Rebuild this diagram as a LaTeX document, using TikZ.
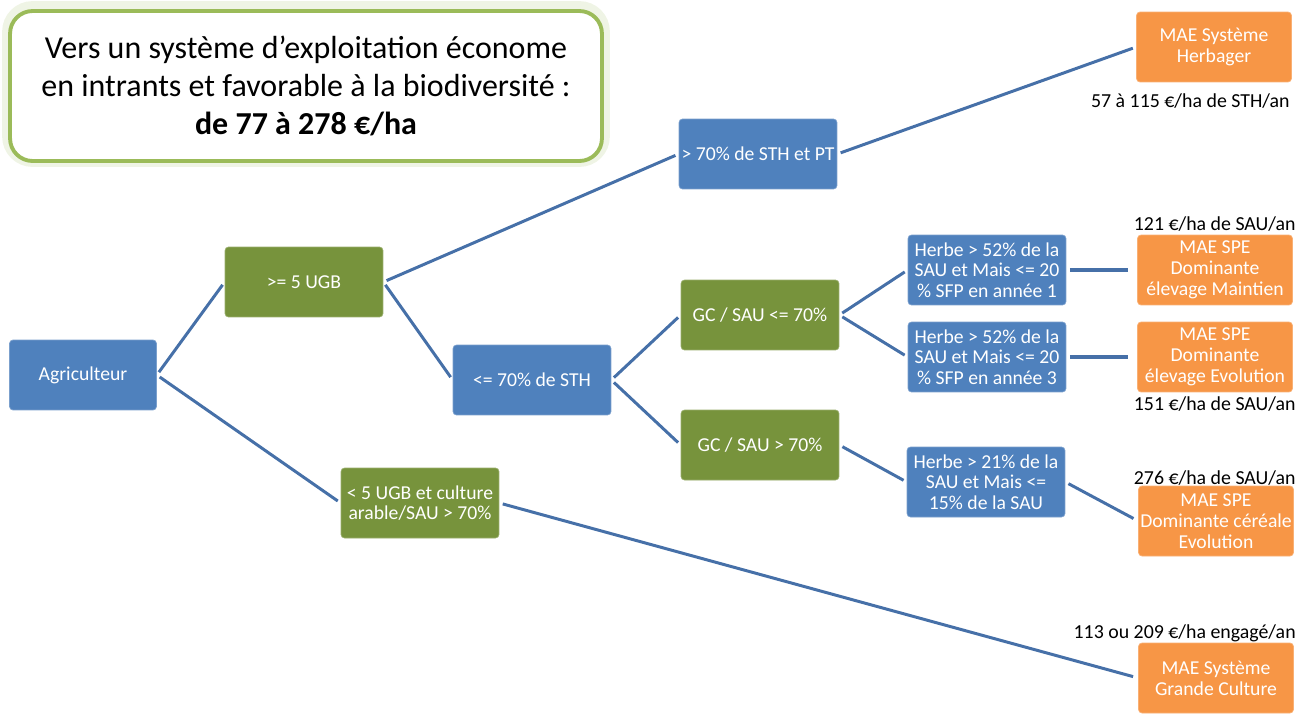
\documentclass[tikz,border=0pt]{standalone}
\usepackage{fontspec}
\setmainfont{Carlito}
\definecolor{boxblue}{RGB}{79,129,189}
\definecolor{boxgreen}{RGB}{119,147,60}
\definecolor{boxorange}{RGB}{247,150,70}
\definecolor{linkblue}{RGB}{70,112,168}
\definecolor{framegreen}{RGB}{155,187,89}
\tikzset{
  box/.style={rounded corners=2pt, text=white, align=center, minimum width=3.16cm,
    minimum height=1.4cm, inner sep=1pt, font=\fontsize{11.2}{11.8}\selectfont},
  bluebox/.style={box, fill=boxblue, draw=boxblue!75!white},
  greenbox/.style={box, fill=boxgreen, draw=boxgreen!75!white},
  orangebox/.style={box, fill=boxorange, draw=boxorange!75!white, minimum width=3.1cm},
  link/.style={draw=linkblue, line width=1.7pt, shorten <=2pt, shorten >=2pt},
  price/.style={anchor=east, inner sep=0pt, font=\fontsize{11.3}{12}\selectfont}
}
\begin{document}
\begin{tikzpicture}[x=0.02cm,y=-0.02cm]
  \useasboundingbox (0,0) rectangle (1296,714);

  % title frame
  \node[rounded corners=0.45cm, minimum width=11.84cm, minimum height=3cm,
        draw=framegreen!40, line width=9pt, draw opacity=0.4] (glow) at (306,84) {};
  \node[rounded corners=0.45cm, minimum width=11.84cm, minimum height=3cm, fill=white,
        draw=framegreen, line width=2.2pt, align=center,
        font=\fontsize{18.2}{21.5}\selectfont] (titre) at (306,86)
        {Vers un système d’exploitation économe\\
         en intrants et favorable à la biodiversité :\\
         \textbf{de 77 à 278 €/ha}};

  % tree
  \node[bluebox, minimum width=2.94cm] (agri) at (83,375) {Agriculteur};
  \node[greenbox] (ugb) at (304,282) {>= 5 UGB};
  \node[greenbox] (arable) at (420,503) {< 5 UGB et culture\\arable/SAU > 70\%};
  \node[bluebox] (sth) at (532,380) {<= 70\% de STH};
  \node[bluebox] (stpt) at (758,154) {> 70\% de STH et PT};
  \node[greenbox] (gcmoins) at (760,315) {GC / SAU <= 70\%};
  \node[greenbox] (gcplus) at (760,445) {GC / SAU > 70\%};
  \node[bluebox] (herbeun) at (987,270) {Herbe > 52\% de la\\SAU et Mais <= 20\\\% SFP en année 1};
  \node[bluebox] (herbetrois) at (987,357) {Herbe > 52\% de la\\SAU et Mais <= 20\\\% SFP en année 3};
  \node[bluebox] (herbevingt) at (986,482) {Herbe > 21\% de la\\SAU et Mais <=\\15\% de la SAU};

  % mesures
  \node[orangebox] (herbager) at (1214,47) {MAE Système\\Herbager};
  \node[orangebox] (maintien) at (1215,270) {MAE SPE\\Dominante\\élevage Maintien};
  \node[orangebox] (evolution) at (1215,357) {MAE SPE\\Dominante\\élevage Evolution};
  \node[orangebox] (cereale) at (1216,521) {MAE SPE\\Dominante céréale\\Evolution};
  \node[orangebox] (grande) at (1216,678) {MAE Système\\Grande Culture};

  % montants
  \node[price] (p1) at (1290,101) {57 à 115 €/ha de STH/an};
  \node[price] (p2) at (1296,224) {121 €/ha de SAU/an};
  \node[price] (p3) at (1296,404) {151 €/ha de SAU/an};
  \node[price] (p4) at (1296,478) {276 €/ha de SAU/an};
  \node[price] (p5) at (1296,633) {113 ou 209 €/ha engagé/an};

  % links
  \draw[link] (agri.east) -- (ugb.west);
  \draw[link] (agri.east) -- (arable.west);
  \draw[link] (ugb.east) -- (stpt.west);
  \draw[link] (ugb.east) -- (sth.west);
  \draw[link] (stpt.east) -- (herbager.west);
  \draw[link] (sth.east) -- (gcmoins.west);
  \draw[link] (sth.east) -- (gcplus.west);
  \draw[link] (gcmoins.east) -- (herbeun.west);
  \draw[link] (gcmoins.east) -- (herbetrois.west);
  \draw[link] (gcplus.east) -- (herbevingt.west);
  \draw[link, line width=2.4pt, shorten >=5pt] (herbeun.east) -- (maintien.west);
  \draw[link, line width=2.6pt, shorten >=5pt] (herbetrois.east) -- (evolution.west);
  \draw[link, shorten >=3pt] (herbevingt.east) -- (cereale.west);
  \draw[link, shorten >=3pt] (arable.east) -- (grande.west);
\end{tikzpicture}
\end{document}
